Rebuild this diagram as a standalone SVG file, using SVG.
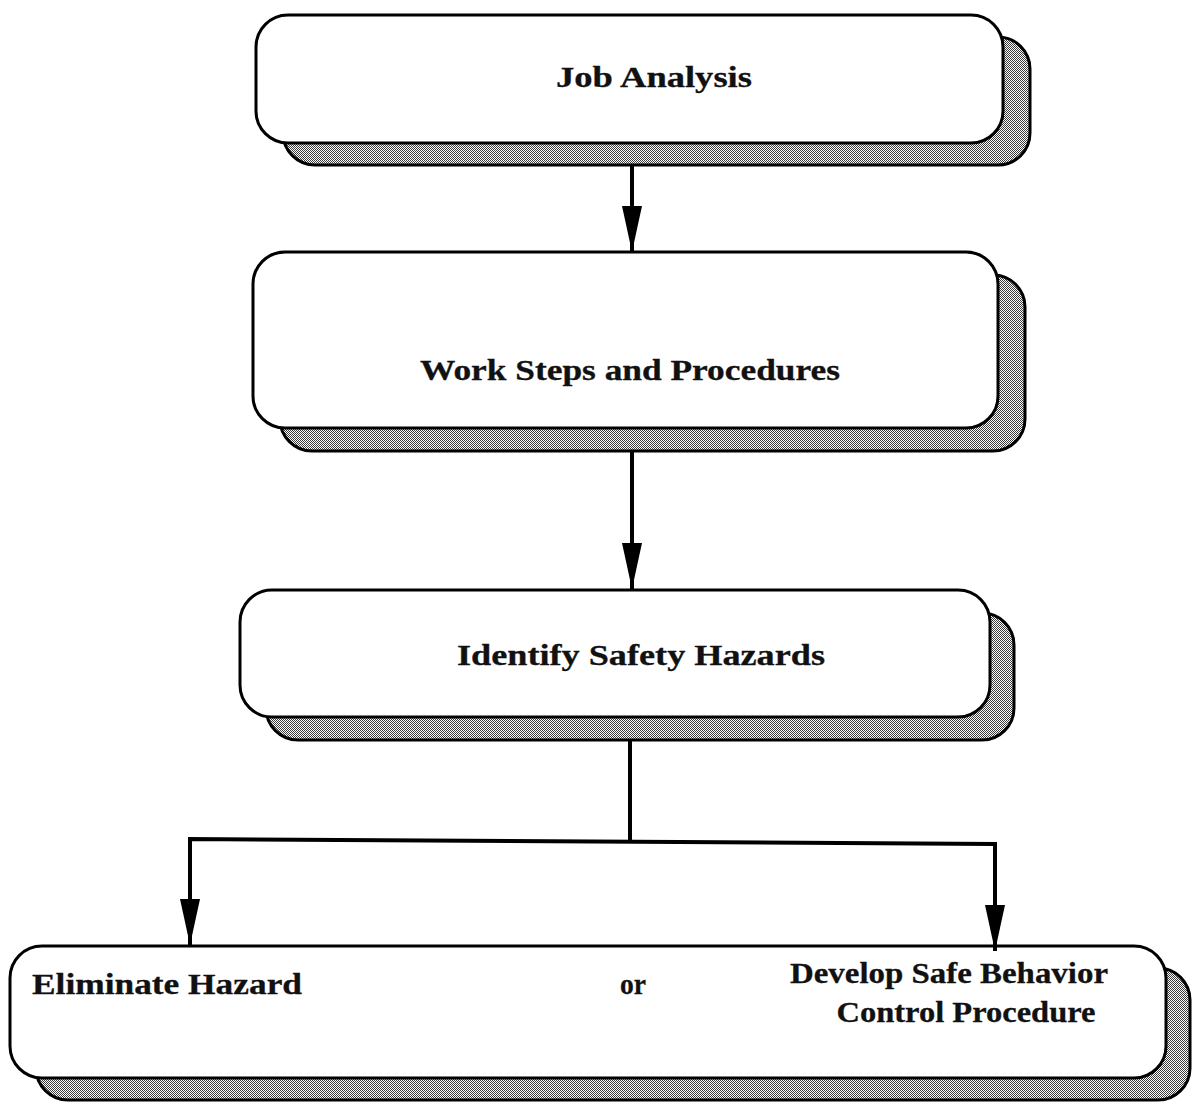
<svg xmlns="http://www.w3.org/2000/svg" width="1194" height="1104" viewBox="0 0 1194 1104">
  <defs>
    <!-- fine checker dither used for the drop shadows -->
    <pattern id="dither" width="2" height="2" patternUnits="userSpaceOnUse">
      <rect width="2" height="2" fill="#fff"/>
      <rect width="1" height="1" fill="#3a3a3a"/>
      <rect x="1" y="1" width="1" height="1" fill="#3a3a3a"/>
    </pattern>
    <!-- long narrow arrowhead, tip at the end of the line -->
    <marker id="arrow" viewBox="0 0 46 20" refX="46" refY="10" markerWidth="46" markerHeight="20" markerUnits="userSpaceOnUse" orient="auto">
      <path d="M0,0 L46,10 L0,20 Z" fill="#000"/>
    </marker>
  </defs>
  <style>
    .shadow { fill: url(#dither); stroke: #000; stroke-width: 3; }
    .box { fill: #fff; stroke: #000; stroke-width: 3; }
    .label { font-family: "Liberation Serif", "DejaVu Serif", serif; font-weight: bold; font-size: 30px; fill: #111; stroke: #111; stroke-width: 0.3; }
    .conn { fill: none; stroke: #000; stroke-width: 4; }
  </style>
  <rect width="1194" height="1104" fill="#fff"/>

  <g id="node-job-analysis">
    <rect class="shadow" x="283" y="37" width="747" height="128" rx="32"/>
    <rect class="box" x="256" y="15" width="747" height="128" rx="32"/>
    <text class="label" x="654" y="87" text-anchor="middle" textLength="196" lengthAdjust="spacingAndGlyphs">Job Analysis</text>
  </g>

  <g id="node-work-steps">
    <rect class="shadow" x="280" y="275" width="745" height="176" rx="32"/>
    <rect class="box" x="253" y="252" width="745" height="176" rx="32"/>
    <text class="label" x="630" y="380" text-anchor="middle" textLength="420" lengthAdjust="spacingAndGlyphs">Work Steps and Procedures</text>
  </g>

  <g id="node-identify-hazards">
    <rect class="shadow" x="266" y="613" width="748" height="127" rx="32"/>
    <rect class="box" x="240" y="590" width="750" height="127" rx="32"/>
    <text class="label" x="641" y="665" text-anchor="middle" textLength="368" lengthAdjust="spacingAndGlyphs">Identify Safety Hazards</text>
  </g>

  <g id="node-outcome">
    <rect class="shadow" x="36" y="968" width="1154" height="132" rx="32"/>
    <rect class="box" x="10" y="946" width="1156" height="132" rx="32"/>
    <text class="label" x="32" y="994" textLength="270" lengthAdjust="spacingAndGlyphs">Eliminate Hazard</text>
    <text class="label" x="633" y="994" text-anchor="middle" textLength="26" lengthAdjust="spacingAndGlyphs">or</text>
    <text class="label" x="949" y="983" text-anchor="middle" textLength="318" lengthAdjust="spacingAndGlyphs">Develop Safe Behavior</text>
    <text class="label" x="966" y="1022" text-anchor="middle" textLength="259" lengthAdjust="spacingAndGlyphs">Control Procedure</text>
  </g>

  <g id="connectors">
    <line class="conn" x1="632" y1="165" x2="632" y2="252" marker-end="url(#arrow)"/>
    <line class="conn" x1="632" y1="451" x2="632" y2="589" marker-end="url(#arrow)"/>
    <line class="conn" x1="630" y1="740" x2="630" y2="841"/>
    <polyline class="conn" points="190,900 190,839 995,844 995,900"/>
    <line class="conn" x1="190" y1="880" x2="190" y2="945" marker-end="url(#arrow)"/>
    <line class="conn" x1="995" y1="885" x2="995" y2="951" marker-end="url(#arrow)"/>
  </g>
</svg>
